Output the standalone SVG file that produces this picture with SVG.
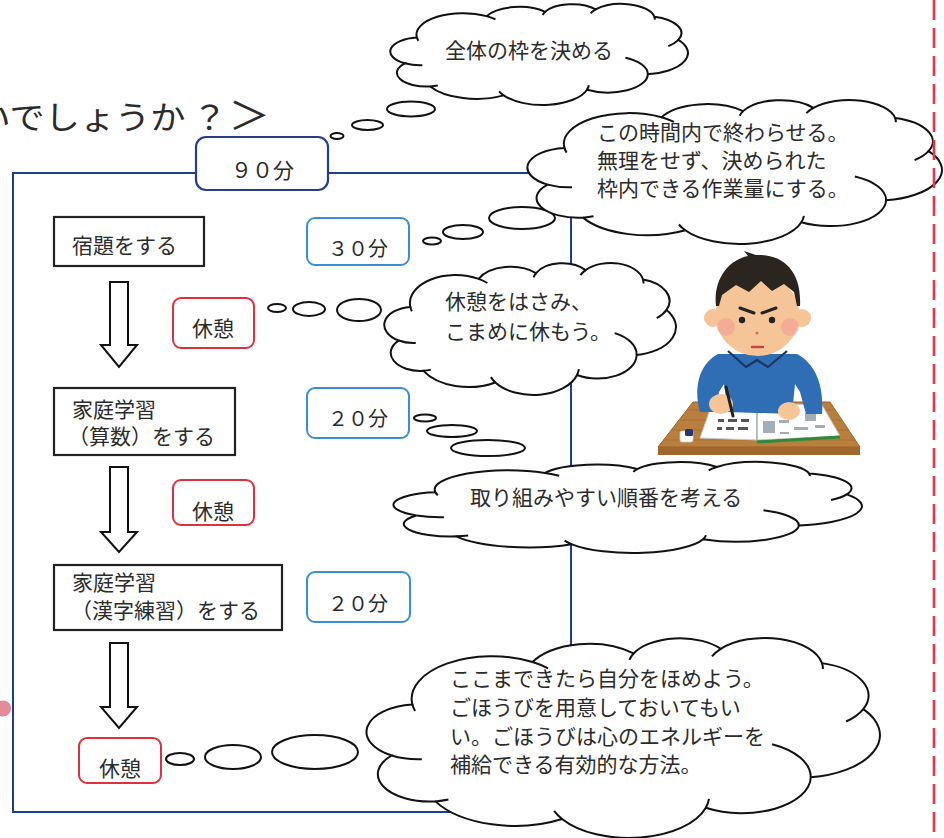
<svg xmlns="http://www.w3.org/2000/svg" width="944" height="838" viewBox="0 0 944 838">
<style>
  text { font-family: "Liberation Sans", "Noto Sans CJK JP", sans-serif; fill: #2b2b2b; }
  .t21 { font-size: 21px; }
  .t20 { font-size: 20px; }
  .task { fill: #fff; stroke: #222; stroke-width: 2.2; }
  .time { fill: #fff; stroke: #3b8ed6; stroke-width: 2; }
  .total { fill: #fff; stroke: #283d88; stroke-width: 2.2; }
  .rest { fill: #fff; stroke: #e02f3d; stroke-width: 2; }
  .dot { fill: #fff; stroke: #111; stroke-width: 2; }
  .arrow { fill: #fff; stroke: #111; stroke-width: 2; }
  .frame { fill: none; stroke: #1f3c8e; stroke-width: 2; }
  .skin { fill: #f5c497; }
</style>
<defs>
  <!-- cloud outline in a 100x100 box, with the inner hook strokes -->
  <g id="cloud">
    <path fill="#fff" stroke="#111" stroke-width="2" vector-effect="non-scaling-stroke"
      d="M9.03,33.26 A15.63,21.27 0 0 1 32.41,12.02 A12.34,16.82 0 0 1 52.06,7.73 A10.10,13.76 0 0 1 69.03,5.42 A11.24,15.27 0 0 1 88.71,12.56 A12.34,16.84 0 0 1 96.75,35.54 A15.68,21.34 0 0 1 86.53,69.65 A13.39,18.21 0 0 1 66.11,84.86 A15.63,21.33 0 0 1 38.14,90.49 A17.87,24.41 0 0 1 13.50,81.69 A10.09,13.70 0 0 1 5.00,58.75 A10.06,13.76 0 0 1 9.03,33.26 Z"/>
    <path fill="none" stroke="#111" stroke-width="2" vector-effect="non-scaling-stroke"
      d="M10.86,60.60 A10.06,13.76 0 0 1 5.00,58.75 M16.04,80.79 A10.09,13.70 0 0 1 13.50,81.69 M38.14,90.49 A15.63,21.33 0 0 1 36.60,86.46 M66.73,80.44 A15.63,21.33 0 0 1 66.11,84.86 M79.00,53.13 A13.39,18.21 0 0 1 86.53,69.65 M96.75,35.54 A12.34,16.84 0 0 1 93.40,41.74 M88.71,12.56 A11.24,15.27 0 0 1 88.89,15.48 M67.31,9.15 A11.24,15.27 0 0 1 69.03,5.42 M51.25,10.93 A10.10,13.76 0 0 1 52.06,7.73 M32.41,12.02 A15.63,21.27 0 0 1 35.42,15.15 M9.55,36.55 A15.63,21.27 0 0 1 9.03,33.26"/>
  </g>
</defs>

<rect width="944" height="838" fill="#fff"/>

<!-- pink ornament cut by the left edge -->
<path d="M0,701 C6,699 11,703 11,708 C11,714 6,718 0,716 Z" fill="#e38b99"/>

<!-- heading (continues from the left) -->
<g id="heading" transform="matrix(1.1 0 0 1 -3.7 0)">
  <text x="-19" y="129" font-size="32">いでしょうか<tspan x="178">？</tspan><tspan x="211" font-size="38">＞</tspan></text>
</g>

<!-- outer frame -->
<rect class="frame" x="13" y="173" width="558" height="639"/>

<g id="total-time">
  <rect class="total" x="196" y="137" width="132" height="53" rx="10"/>
  <text class="t21" x="231" y="178">９０分</text>
</g>

<g id="task-homework">
  <rect class="task" x="54" y="217" width="150" height="49"/>
  <text class="t21" x="72" y="253">宿題をする</text>
</g>
<g id="time-homework">
  <rect class="time" x="307" y="218" width="102" height="47" rx="8"/>
  <text class="t20" x="328" y="256">３０分</text>
</g>

<g id="rest-1">
  <rect class="rest" x="173" y="298" width="81" height="50" rx="8"/>
  <text class="t21" x="192" y="336">休憩</text>
</g>

<g id="task-math">
  <rect class="task" x="54" y="388" width="181" height="67"/>
  <text class="t21" x="72" y="417">家庭学習</text>
  <text class="t21" x="68" y="444">（算数）をする</text>
</g>
<g id="time-math">
  <rect class="time" x="307" y="388" width="102" height="50" rx="8"/>
  <text class="t20" x="328" y="426">２０分</text>
</g>

<g id="rest-2">
  <rect class="rest" x="173" y="480" width="81" height="45" rx="8"/>
  <text class="t21" x="192" y="519">休憩</text>
</g>

<g id="task-kanji">
  <rect class="task" x="54" y="565" width="228" height="65"/>
  <text class="t21" x="72" y="590">家庭学習</text>
  <text class="t21" x="71" y="618">（漢字練習）をする</text>
</g>
<g id="time-kanji">
  <rect class="time" x="307" y="572" width="103" height="50" rx="8"/>
  <text class="t20" x="328" y="611">２０分</text>
</g>

<g id="rest-3">
  <rect class="rest" x="79" y="738" width="82" height="45" rx="8"/>
  <text class="t21" x="99" y="776">休憩</text>
</g>

<!-- flow arrows and thought-bubble trails -->
<g id="connectors">
  <path class="arrow" d="M110,282 H128 V345 H137 L119,367 L101,345 H110 Z"/>
  <path class="arrow" d="M110,467 H128 V532 H137 L119,552 L101,532 H110 Z"/>
  <path class="arrow" d="M110,643 H128 V707 H137 L119,728 L101,707 H110 Z"/>

  <ellipse class="dot" cx="337" cy="136" rx="6.5" ry="3"/>
  <ellipse class="dot" cx="367.5" cy="125" rx="15.5" ry="5"/>
  <ellipse class="dot" cx="411" cy="109" rx="24" ry="7.5"/>

  <ellipse class="dot" cx="432" cy="241" rx="9" ry="3.5"/>
  <ellipse class="dot" cx="463" cy="232" rx="20" ry="7"/>
  <ellipse class="dot" cx="522" cy="218" rx="33" ry="11"/>

  <ellipse class="dot" cx="277" cy="308" rx="9" ry="4"/>
  <ellipse class="dot" cx="309" cy="309" rx="16" ry="7"/>
  <ellipse class="dot" cx="359" cy="310" rx="22" ry="11"/>

  <ellipse class="dot" cx="425" cy="418" rx="11" ry="3.5"/>
  <ellipse class="dot" cx="452" cy="431" rx="25" ry="6"/>
  <ellipse class="dot" cx="488" cy="448" rx="37" ry="8"/>

  <ellipse class="dot" cx="180" cy="759" rx="14" ry="6"/>
  <ellipse class="dot" cx="233" cy="757" rx="28" ry="12"/>
  <ellipse class="dot" cx="315" cy="752" rx="43" ry="17"/>
</g>

<g id="note-frame">
  <use href="#cloud" transform="translate(390 4) scale(2.98 1.01)"/>
  <text class="t21" x="445" y="58">全体の枠を決める</text>
</g>

<g id="note-limit">
  <use href="#cloud" transform="translate(527 100) scale(4.15 1.44)"/>
  <text class="t21" x="597" y="140">この時間内で終わらせる。</text>
  <text class="t21" x="597" y="168">無理をせず、決められた</text>
  <text class="t21" x="597" y="196">枠内できる作業量にする。</text>
</g>

<g id="note-rest">
  <use href="#cloud" transform="translate(384 263) scale(2.92 1.32)"/>
  <text class="t21" x="445" y="309">休憩をはさみ、</text>
  <text class="t21" x="445" y="339">こまめに休もう。</text>
</g>

<g id="note-order">
  <use href="#cloud" transform="translate(393 462) scale(4.69 0.91)"/>
  <text class="t21" x="470" y="505">取り組みやすい順番を考える</text>
</g>

<g id="note-reward">
  <use href="#cloud" transform="translate(366 638) scale(5.14 2.0)"/>
  <text class="t21" x="450" y="686">ここまできたら自分をほめよう。</text>
  <text class="t21" x="450" y="715">ごほうびを用意しておいてもい</text>
  <text class="t21" x="450" y="744">い。ごほうびは心のエネルギーを</text>
  <text class="t21" x="450" y="772">補給できる有効的な方法。</text>
</g>

<!-- student at a desk -->
<g id="student">
  <!-- desk -->
  <path d="M693,402 H830 L860,447 H658 Z" fill="#b97f3e" stroke="#9a6528" stroke-width="1"/>
  <g stroke="#a56d30" stroke-width="1" opacity="0.7">
    <path d="M688,410 H835 M680,420 H842 M672,430 H848 M665,440 H855"/>
  </g>
  <rect x="658" y="447" width="202" height="8" fill="#9f672b"/>
  <!-- eraser -->
  <rect x="680" y="431" width="13" height="11" rx="2" fill="#fff" stroke="#ccc" stroke-width="0.8"/>
  <rect x="685" y="429" width="8" height="7" rx="1.5" fill="#24386e"/>
  <!-- book -->
  <path d="M712,404 L757,403 L757,440 L700,438 Z" fill="#fff" stroke="#c8c8c8" stroke-width="1"/>
  <path d="M757,403 L822,405 L840,436 L757,440 Z" fill="#fff" stroke="#c8c8c8" stroke-width="1"/>
  <path d="M757,442 L840,437" stroke="#2f8a3e" stroke-width="3"/>
  <path d="M757,403 V440" stroke="#9aa" stroke-width="1.2"/>
  <g fill="#555">
    <rect x="718" y="419" width="6" height="3"/><rect x="728" y="419" width="9" height="3"/><rect x="741" y="419" width="8" height="3"/>
    <rect x="717" y="427" width="5" height="3"/><rect x="726" y="427" width="8" height="3"/><rect x="738" y="427" width="10" height="3"/>
  </g>
  <g fill="#a3aeb6">
    <rect x="763" y="421" width="12" height="12"/><rect x="805" y="413" width="11" height="8"/>
    <rect x="779" y="420" width="10" height="3"/><rect x="794" y="427" width="14" height="3"/><rect x="780" y="432" width="9" height="2"/><rect x="815" y="425" width="10" height="3"/>
  </g>
  <!-- body and arms -->
  <path d="M700,412 C694,392 697,365 718,354 L797,354 C818,365 824,390 822,414 L806,414 L800,392 L795,384 L792,414 L728,412 L724,384 L719,392 L716,412 Z" fill="#2f6db4"/>
  <path d="M728,351 L746,367 L757,360 L768,367 L787,351" fill="none" stroke="#1c355f" stroke-width="2.2" stroke-linejoin="round"/>
  <!-- hands and pen -->
  <ellipse class="skin" cx="721" cy="404" rx="12" ry="10"/>
  <ellipse class="skin" cx="789" cy="411" rx="11" ry="9"/>
  <path d="M726,387 L733,416" stroke="#222" stroke-width="3" stroke-linecap="round"/>
  <!-- head -->
  <circle class="skin" cx="713" cy="318" r="9"/>
  <circle class="skin" cx="802" cy="318" r="9"/>
  <ellipse class="skin" cx="757.5" cy="315" rx="42" ry="41"/>
  <circle cx="726" cy="327" r="9" fill="#f29a92" opacity="0.55"/>
  <circle cx="790" cy="327" r="9" fill="#f29a92" opacity="0.55"/>
  <path d="M716,306 C713,280 728,260 748,256 L744,251 L756,255 C782,254 802,270 800,306 L797,306 L794,292 L784,284 L772,291 L761,281 L749,292 L736,285 L722,295 L719,306 Z" fill="#2b2520"/>
  <path d="M740,308 L754,313 M762,313 L776,308" stroke="#222" stroke-width="3" stroke-linecap="round"/>
  <circle cx="742" cy="320" r="3.2" fill="#222"/>
  <circle cx="772" cy="320" r="3.2" fill="#222"/>
  <circle cx="757" cy="333" r="1.6" fill="#d0705a"/>
  <path d="M752,347 H763" stroke="#c9454a" stroke-width="2.4" stroke-linecap="round"/>
</g>

<!-- dashed cut line on top of everything -->
<line x1="934" y1="0" x2="934" y2="838" stroke="#e2374c" stroke-width="2.6" stroke-dasharray="20 8"/>
</svg>
